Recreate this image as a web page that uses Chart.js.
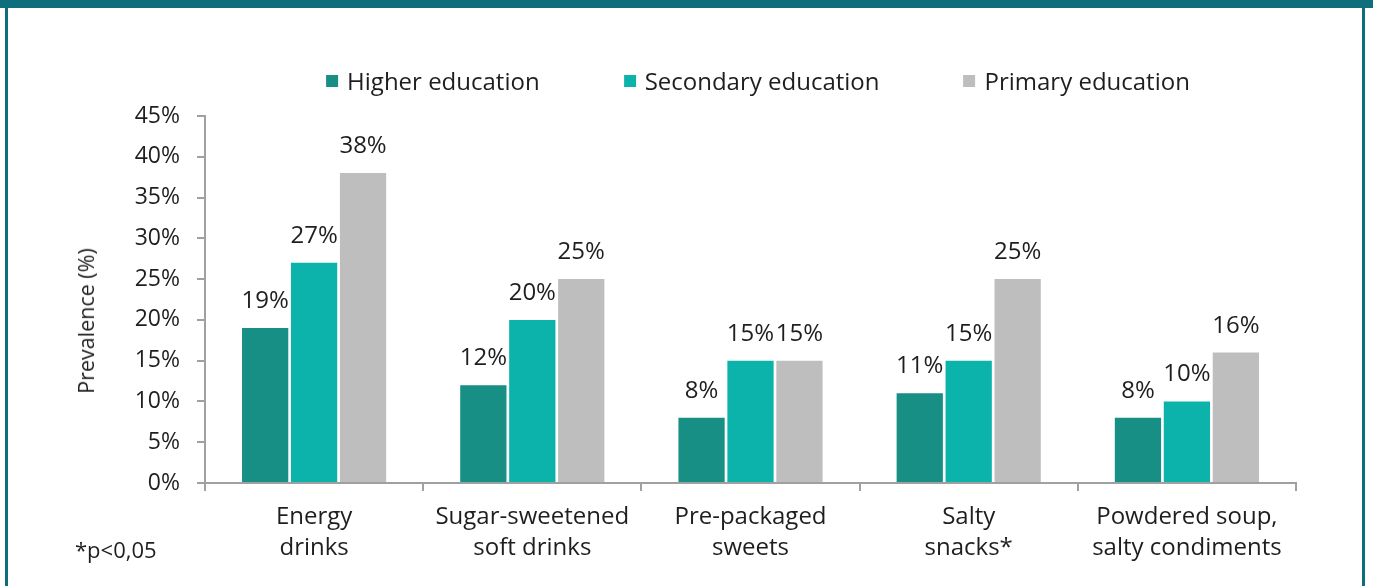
<!DOCTYPE html>
<html>
<head>
<meta charset="utf-8">
<script src="https://cdn.jsdelivr.net/npm/chart.js@4.4.1/dist/chart.umd.min.js"></script>
<style>
  html, body { margin: 0; padding: 0; background: #fff; }
  body { width: 1373px; height: 586px; position: relative; overflow: hidden; font-family: 'Open Sans', sans-serif; color: #1e1e1e; }
  .band { position: absolute; left: 0; top: 0; width: 1373px; height: 8px; background: #0f6e7c; }
  .frame { position: absolute; left: 5px; top: 0; width: 1360px; height: 586px; box-sizing: border-box;
           border-left: 3px solid #0f6e7c; border-right: 3px solid #0f6e7c; }
  .wrap { position: absolute; left: 0; top: 0; width: 1373px; height: 586px; }
  #legend { position: absolute; left: 758px; top: 66px; transform: translateX(-50%); display: flex; gap: 84px;
            font-size: 24px; line-height: 30px; white-space: nowrap; }
  #legend .item { display: flex; align-items: center; }
  #legend .sw { width: 12px; height: 12px; margin-right: 9px; }
  .ytitle { position: absolute; left: 86px; top: 321px; transform: translate(-50%, -50%) rotate(-90deg);
            font-size: 21.5px; line-height: 26px; white-space: nowrap; }
  .note { position: absolute; left: 75px; top: 534px; font-size: 22px; line-height: 30px; }
</style>
</head>
<body>
<div class="band"></div>
<div class="frame"></div>
<div class="wrap"><canvas id="eduChart"></canvas></div>
<div id="legend"></div>
<div class="ytitle">Prevalence (%)</div>
<div class="note">*p&lt;0,05</div>
<script>
// Prevalence of consumption by education level (%)
const categories = [
  ['Energy', 'drinks'],
  ['Sugar-sweetened', 'soft drinks'],
  ['Pre-packaged', 'sweets'],
  ['Salty', 'snacks*'],
  ['Powdered soup,', 'salty condiments']
];
const seriesNames = ['Higher education', 'Secondary education', 'Primary education'];
const seriesColors = ['#178f85', '#0bb3aa', '#bebebe'];
const higherEdu = [19, 12, 8, 11, 8];
const secondaryEdu = [27, 20, 15, 15, 10];
const primaryEdu = [38, 25, 15, 25, 16];
const yMax = 45;
const yStep = 5;

const FONT = "'Open Sans', sans-serif";
const TEXT = '#1e1e1e';
const AXIS = '#a0a0a0';

const seriesValues = [higherEdu, secondaryEdu, primaryEdu];

// value labels above each bar
const barLabels = {
  id: 'barLabels',
  afterDatasetsDraw(chart) {
    const ctx = chart.ctx;
    ctx.save();
    ctx.font = `24px ${FONT}`;
    ctx.fillStyle = TEXT;
    ctx.textAlign = 'center';
    ctx.textBaseline = 'alphabetic';
    chart.data.datasets.forEach((ds, i) => {
      chart.getDatasetMeta(i).data.forEach((bar, j) => {
        ctx.fillText(ds.data[j] + '%', bar.x, bar.y - 20);
      });
    });
    ctx.restore();
  }
};

const chart = new Chart(document.getElementById('eduChart'), {
  type: 'bar',
  data: {
    labels: categories,
    datasets: seriesNames.map((name, i) => ({
      label: name,
      data: seriesValues[i],
      backgroundColor: seriesColors[i],
      borderWidth: 0,
      categoryPercentage: 0.673,
      barPercentage: 0.945
    }))
  },
  options: {
    responsive: true,
    maintainAspectRatio: false,
    animation: false,
    layout: { padding: { left: 0, right: 77, top: 116, bottom: 0 } },
    plugins: {
      legend: { display: false },
      tooltip: { enabled: false }
    },
    scales: {
      x: {
        afterFit: (s) => { s.height = 103; },
        grid: { display: true, drawOnChartArea: false, drawTicks: true, tickLength: 8, color: AXIS, lineWidth: 2, offset: true },
        border: { display: true, color: AXIS, width: 2 },
        ticks: { color: TEXT, font: { family: FONT, size: 24, lineHeight: 1.29 }, padding: 11, maxRotation: 0, autoSkip: false }
      },
      y: {
        min: 0,
        max: yMax,
        afterFit: (s) => { s.width = 205; },
        grid: { display: true, drawOnChartArea: false, drawTicks: true, tickLength: 8, color: AXIS, lineWidth: 2 },
        border: { display: true, color: AXIS, width: 2 },
        ticks: { stepSize: yStep, color: TEXT, font: { family: FONT, size: 23 }, padding: 17, callback: (v) => v + '%' }
      }
    }
  },
  plugins: [barLabels]
});

// legend built from the same series arrays
document.getElementById('legend').innerHTML = seriesNames.map((name, i) =>
  `<div class="item"><span class="sw" style="background:${seriesColors[i]}"></span>${name}</div>`
).join('');
</script>
</body>
</html>
